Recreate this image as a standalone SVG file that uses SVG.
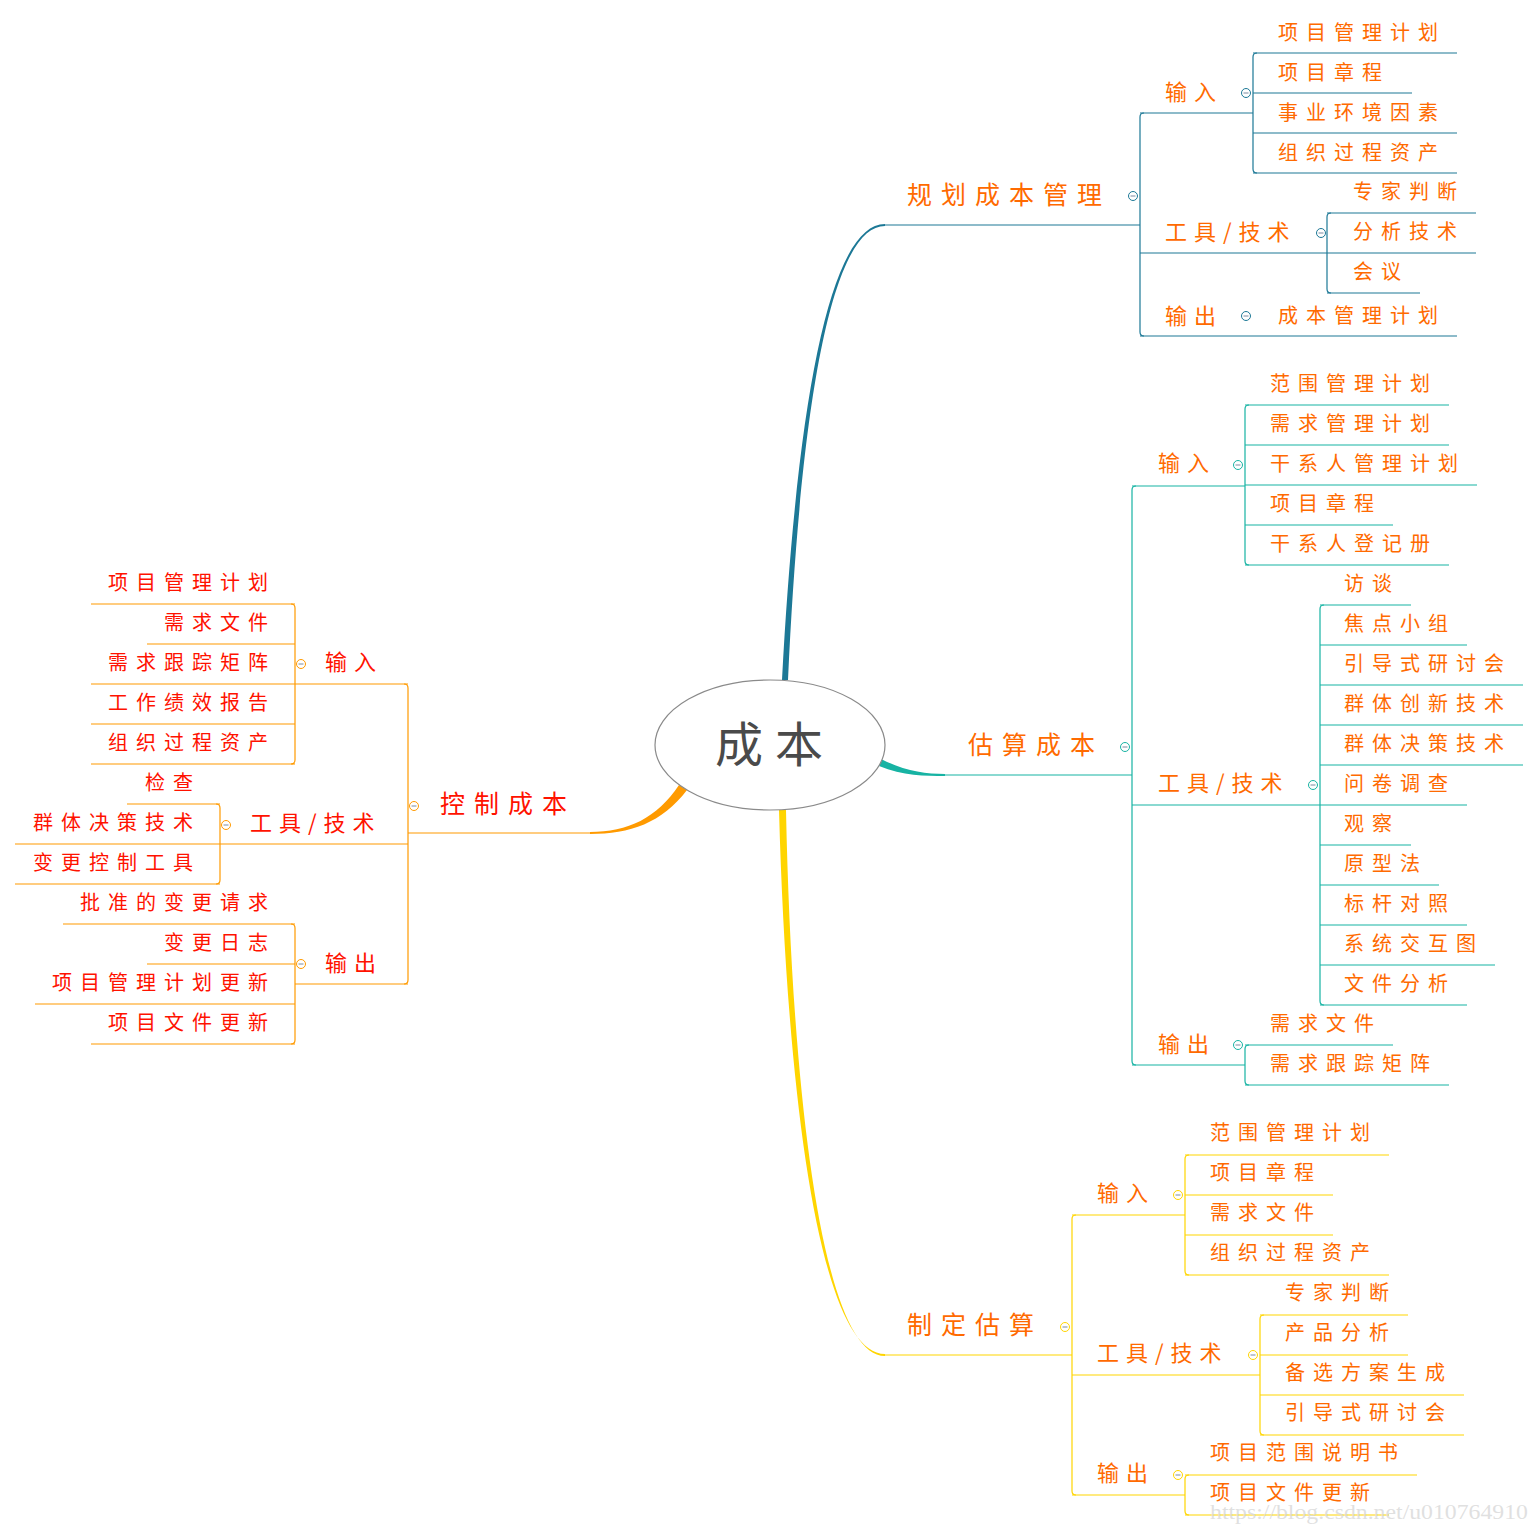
<svg xmlns="http://www.w3.org/2000/svg" xmlns:xlink="http://www.w3.org/1999/xlink" width="1540" height="1530" viewBox="0 0 1540 1530">
<style>
text{font-family:"Noto Sans CJK SC","Noto Sans CJK TC",sans-serif}
.l1{font-size:25px;letter-spacing:9px}
.l2{font-size:22px;letter-spacing:7px}
.lf{font-size:20px;letter-spacing:8px}
.or{fill:#FF6A00}
.rd{fill:#FF1200}
.e{text-anchor:end}
.b{stroke:#1C7896;stroke-width:1.2;fill:none}
.g{stroke:#17B3A3;stroke-width:1.2;fill:none}
.y{stroke:#FFD500;stroke-width:1.2;fill:none}
.o{stroke:#FF9A00;stroke-width:1.2;fill:none}
.tg{stroke-width:1}
</style>
<defs>
<symbol id="tog" overflow="visible"><circle r="4.5" fill="#fff"/><path d="M-2.5,0H2.5" stroke="#7a8aa0"/></symbol>
</defs>
<rect width="1540" height="1530" fill="#fff"/>

<g id="connectors">
<path d="M782,680 C797,400 830,224 885,224 L885,226 C832,226 801,400 788,680 Z" fill="#1C7896"/>
<path d="M881,759 C905,771 925,774 945,774 L945,776 C925,776 903,776 879,766 Z" fill="#17B3A3"/>
<path d="M779,810 C787,1100 820,1354 885,1354 L885,1356 C823,1356 792,1100 786,810 Z" fill="#FFD500"/>
<path d="M679,785 C657,818 628,832 590,832 L590,834 C630,834 662,823 687,790 Z" fill="#FF9A00"/>
<path class="b" d="M1144,113Q1140,113 1140,117L1140,332Q1140,336 1144,336"/>
<path class="b" d="M1257,53Q1253,53 1253,57L1253,169Q1253,173 1257,173"/>
<path class="b" d="M1331,213Q1327,213 1327,217L1327,289Q1327,293 1331,293"/>
<path class="g" d="M1136,486Q1132,486 1132,490L1132,1061Q1132,1065 1136,1065"/>
<path class="g" d="M1249,405Q1245,405 1245,409L1245,561Q1245,565 1249,565"/>
<path class="g" d="M1324,605Q1320,605 1320,609L1320,1001Q1320,1005 1324,1005"/>
<path class="g" d="M1249,1045Q1245,1045 1245,1049L1245,1081Q1245,1085 1249,1085"/>
<path class="y" d="M1076,1215Q1072,1215 1072,1219L1072,1491Q1072,1495 1076,1495"/>
<path class="y" d="M1189,1155Q1185,1155 1185,1159L1185,1271Q1185,1275 1189,1275"/>
<path class="y" d="M1264,1315Q1260,1315 1260,1319L1260,1431Q1260,1435 1264,1435"/>
<path class="y" d="M1189,1475Q1185,1475 1185,1479L1185,1511Q1185,1515 1189,1515"/>
<path class="o" d="M404,684Q408,684 408,688L408,980Q408,984 404,984"/>
<path class="o" d="M291,604Q295,604 295,608L295,760Q295,764 291,764"/>
<path class="o" d="M216,804Q220,804 220,808L220,880Q220,884 216,884"/>
<path class="o" d="M291,924Q295,924 295,928L295,1040Q295,1044 291,1044"/>
</g>

<g id="root">
<ellipse cx="770" cy="745" rx="115" ry="65" fill="#fff" stroke="#8a8a8a" stroke-width="1.2"/>
<text x="775" y="762" text-anchor="middle" font-size="48" letter-spacing="12" fill="#4a4a4a">成本</text>
</g>

<!-- top branch -->
<g id="n-guihua"><text class="l1 or" x="907" y="204">规划成本管理</text><line class="b" x1="885" y1="225" x2="1140" y2="225"/><use href="#tog" x="1133" y="196" class="b tg"/></g>
<g id="n-gh-in"><text class="l2 or" x="1165" y="100">输入</text><line class="b" x1="1140" y1="113" x2="1253" y2="113"/><use href="#tog" x="1246" y="93" class="b tg"/></g>
<g id="n-gh-in1"><text class="lf or" x="1278" y="40">项目管理计划</text><line class="b" x1="1253" y1="53" x2="1457" y2="53"/></g>
<g id="n-gh-in2"><text class="lf or" x="1278" y="80">项目章程</text><line class="b" x1="1253" y1="93" x2="1412" y2="93"/></g>
<g id="n-gh-in3"><text class="lf or" x="1278" y="120">事业环境因素</text><line class="b" x1="1253" y1="133" x2="1457" y2="133"/></g>
<g id="n-gh-in4"><text class="lf or" x="1278" y="160">组织过程资产</text><line class="b" x1="1253" y1="173" x2="1457" y2="173"/></g>
<g id="n-gh-tool"><text class="l2 or" x="1165" y="240">工具/技术</text><line class="b" x1="1140" y1="253" x2="1327" y2="253"/><use href="#tog" x="1321" y="233" class="b tg"/></g>
<g id="n-gh-t1"><text class="lf or" x="1353" y="199">专家判断</text><line class="b" x1="1327" y1="213" x2="1476" y2="213"/></g>
<g id="n-gh-t2"><text class="lf or" x="1353" y="239">分析技术</text><line class="b" x1="1327" y1="253" x2="1476" y2="253"/></g>
<g id="n-gh-t3"><text class="lf or" x="1353" y="279">会议</text><line class="b" x1="1327" y1="293" x2="1420" y2="293"/></g>
<g id="n-gh-out"><text class="l2 or" x="1165" y="324">输出</text><line class="b" x1="1140" y1="336" x2="1253" y2="336"/><use href="#tog" x="1246" y="316" class="b tg"/></g>
<g id="n-gh-o1"><text class="lf or" x="1278" y="323">成本管理计划</text><line class="b" x1="1253" y1="336" x2="1457" y2="336"/></g>

<!-- middle branch -->
<g id="n-gusuan"><text class="l1 or" x="968" y="754">估算成本</text><line class="g" x1="945" y1="775" x2="1132" y2="775"/><use href="#tog" x="1125" y="747" class="g tg"/></g>
<g id="n-gs-in"><text class="l2 or" x="1158" y="471">输入</text><line class="g" x1="1132" y1="486" x2="1245" y2="486"/><use href="#tog" x="1238" y="465" class="g tg"/></g>
<g id="n-gs-in1"><text class="lf or" x="1270" y="391">范围管理计划</text><line class="g" x1="1245" y1="405" x2="1449" y2="405"/></g>
<g id="n-gs-in2"><text class="lf or" x="1270" y="431">需求管理计划</text><line class="g" x1="1245" y1="445" x2="1449" y2="445"/></g>
<g id="n-gs-in3"><text class="lf or" x="1270" y="471">干系人管理计划</text><line class="g" x1="1245" y1="485" x2="1477" y2="485"/></g>
<g id="n-gs-in4"><text class="lf or" x="1270" y="511">项目章程</text><line class="g" x1="1245" y1="525" x2="1393" y2="525"/></g>
<g id="n-gs-in5"><text class="lf or" x="1270" y="551">干系人登记册</text><line class="g" x1="1245" y1="565" x2="1449" y2="565"/></g>
<g id="n-gs-tool"><text class="l2 or" x="1158" y="791">工具/技术</text><line class="g" x1="1132" y1="805" x2="1320" y2="805"/><use href="#tog" x="1313" y="785" class="g tg"/></g>
<g id="n-gs-t1"><text class="lf or" x="1344" y="591">访谈</text><line class="g" x1="1320" y1="605" x2="1411" y2="605"/></g>
<g id="n-gs-t2"><text class="lf or" x="1344" y="631">焦点小组</text><line class="g" x1="1320" y1="645" x2="1467" y2="645"/></g>
<g id="n-gs-t3"><text class="lf or" x="1344" y="671">引导式研讨会</text><line class="g" x1="1320" y1="685" x2="1523" y2="685"/></g>
<g id="n-gs-t4"><text class="lf or" x="1344" y="711">群体创新技术</text><line class="g" x1="1320" y1="725" x2="1523" y2="725"/></g>
<g id="n-gs-t5"><text class="lf or" x="1344" y="751">群体决策技术</text><line class="g" x1="1320" y1="765" x2="1523" y2="765"/></g>
<g id="n-gs-t6"><text class="lf or" x="1344" y="791">问卷调查</text><line class="g" x1="1320" y1="805" x2="1467" y2="805"/></g>
<g id="n-gs-t7"><text class="lf or" x="1344" y="831">观察</text><line class="g" x1="1320" y1="845" x2="1411" y2="845"/></g>
<g id="n-gs-t8"><text class="lf or" x="1344" y="871">原型法</text><line class="g" x1="1320" y1="885" x2="1439" y2="885"/></g>
<g id="n-gs-t9"><text class="lf or" x="1344" y="911">标杆对照</text><line class="g" x1="1320" y1="925" x2="1467" y2="925"/></g>
<g id="n-gs-t10"><text class="lf or" x="1344" y="951">系统交互图</text><line class="g" x1="1320" y1="965" x2="1495" y2="965"/></g>
<g id="n-gs-t11"><text class="lf or" x="1344" y="991">文件分析</text><line class="g" x1="1320" y1="1005" x2="1467" y2="1005"/></g>
<g id="n-gs-out"><text class="l2 or" x="1158" y="1052">输出</text><line class="g" x1="1132" y1="1065" x2="1245" y2="1065"/><use href="#tog" x="1238" y="1045" class="g tg"/></g>
<g id="n-gs-o1"><text class="lf or" x="1270" y="1031">需求文件</text><line class="g" x1="1245" y1="1045" x2="1393" y2="1045"/></g>
<g id="n-gs-o2"><text class="lf or" x="1270" y="1071">需求跟踪矩阵</text><line class="g" x1="1245" y1="1085" x2="1449" y2="1085"/></g>

<!-- bottom branch -->
<g id="n-zhiding"><text class="l1 or" x="907" y="1334">制定估算</text><line class="y" x1="885" y1="1355" x2="1072" y2="1355"/><use href="#tog" x="1065" y="1327" class="y tg"/></g>
<g id="n-zd-in"><text class="l2 or" x="1097" y="1201">输入</text><line class="y" x1="1072" y1="1215" x2="1185" y2="1215"/><use href="#tog" x="1178" y="1195" class="y tg"/></g>
<g id="n-zd-in1"><text class="lf or" x="1210" y="1140">范围管理计划</text><line class="y" x1="1185" y1="1155" x2="1389" y2="1155"/></g>
<g id="n-zd-in2"><text class="lf or" x="1210" y="1180">项目章程</text><line class="y" x1="1185" y1="1195" x2="1333" y2="1195"/></g>
<g id="n-zd-in3"><text class="lf or" x="1210" y="1220">需求文件</text><line class="y" x1="1185" y1="1235" x2="1333" y2="1235"/></g>
<g id="n-zd-in4"><text class="lf or" x="1210" y="1260">组织过程资产</text><line class="y" x1="1185" y1="1275" x2="1389" y2="1275"/></g>
<g id="n-zd-tool"><text class="l2 or" x="1097" y="1361">工具/技术</text><line class="y" x1="1072" y1="1375" x2="1260" y2="1375"/><use href="#tog" x="1253" y="1355" class="y tg"/></g>
<g id="n-zd-t1"><text class="lf or" x="1285" y="1300">专家判断</text><line class="y" x1="1260" y1="1315" x2="1408" y2="1315"/></g>
<g id="n-zd-t2"><text class="lf or" x="1285" y="1340">产品分析</text><line class="y" x1="1260" y1="1355" x2="1408" y2="1355"/></g>
<g id="n-zd-t3"><text class="lf or" x="1285" y="1380">备选方案生成</text><line class="y" x1="1260" y1="1395" x2="1464" y2="1395"/></g>
<g id="n-zd-t4"><text class="lf or" x="1285" y="1420">引导式研讨会</text><line class="y" x1="1260" y1="1435" x2="1464" y2="1435"/></g>
<g id="n-zd-out"><text class="l2 or" x="1097" y="1481">输出</text><line class="y" x1="1072" y1="1495" x2="1185" y2="1495"/><use href="#tog" x="1178" y="1475" class="y tg"/></g>
<g id="n-zd-o1"><text class="lf or" x="1210" y="1460">项目范围说明书</text><line class="y" x1="1185" y1="1475" x2="1417" y2="1475"/></g>
<g id="n-zd-o2"><text class="lf or" x="1210" y="1500">项目文件更新</text><line class="y" x1="1185" y1="1515" x2="1389" y2="1515"/></g>

<!-- left branch -->
<g id="n-kongzhi"><text class="l1 rd" x="440" y="813">控制成本</text><line class="o" x1="408" y1="833" x2="590" y2="833"/><use href="#tog" x="414" y="806" class="o tg"/></g>
<g id="n-kz-in"><text class="l2 rd" x="325" y="670">输入</text><line class="o" x1="295" y1="684" x2="408" y2="684"/><use href="#tog" x="301" y="664" class="o tg"/></g>
<g id="n-kz-in1"><text class="lf rd e" x="276" y="590">项目管理计划</text><line class="o" x1="91" y1="604" x2="295" y2="604"/></g>
<g id="n-kz-in2"><text class="lf rd e" x="276" y="630">需求文件</text><line class="o" x1="147" y1="644" x2="295" y2="644"/></g>
<g id="n-kz-in3"><text class="lf rd e" x="276" y="670">需求跟踪矩阵</text><line class="o" x1="91" y1="684" x2="295" y2="684"/></g>
<g id="n-kz-in4"><text class="lf rd e" x="276" y="710">工作绩效报告</text><line class="o" x1="91" y1="724" x2="295" y2="724"/></g>
<g id="n-kz-in5"><text class="lf rd e" x="276" y="750">组织过程资产</text><line class="o" x1="91" y1="764" x2="295" y2="764"/></g>
<g id="n-kz-tool"><text class="l2 rd" x="250" y="831">工具/技术</text><line class="o" x1="220" y1="844" x2="408" y2="844"/><use href="#tog" x="226" y="825" class="o tg"/></g>
<g id="n-kz-t1"><text class="lf rd e" x="201" y="790">检查</text><line class="o" x1="127" y1="804" x2="220" y2="804"/></g>
<g id="n-kz-t2"><text class="lf rd e" x="201" y="830">群体决策技术</text><line class="o" x1="15" y1="844" x2="220" y2="844"/></g>
<g id="n-kz-t3"><text class="lf rd e" x="201" y="870">变更控制工具</text><line class="o" x1="15" y1="884" x2="220" y2="884"/></g>
<g id="n-kz-out"><text class="l2 rd" x="325" y="971">输出</text><line class="o" x1="295" y1="984" x2="408" y2="984"/><use href="#tog" x="301" y="964" class="o tg"/></g>
<g id="n-kz-o1"><text class="lf rd e" x="276" y="910">批准的变更请求</text><line class="o" x1="63" y1="924" x2="295" y2="924"/></g>
<g id="n-kz-o2"><text class="lf rd e" x="276" y="950">变更日志</text><line class="o" x1="147" y1="964" x2="295" y2="964"/></g>
<g id="n-kz-o3"><text class="lf rd e" x="276" y="990">项目管理计划更新</text><line class="o" x1="35" y1="1004" x2="295" y2="1004"/></g>
<g id="n-kz-o4"><text class="lf rd e" x="276" y="1030">项目文件更新</text><line class="o" x1="91" y1="1044" x2="295" y2="1044"/></g>

<text x="1210" y="1519" textLength="318" lengthAdjust="spacingAndGlyphs" font-size="21" fill="#d8d8d8" fill-opacity="0.8" style="font-family:'Liberation Serif',serif">https://blog.csdn.net/u010764910</text>
</svg>
